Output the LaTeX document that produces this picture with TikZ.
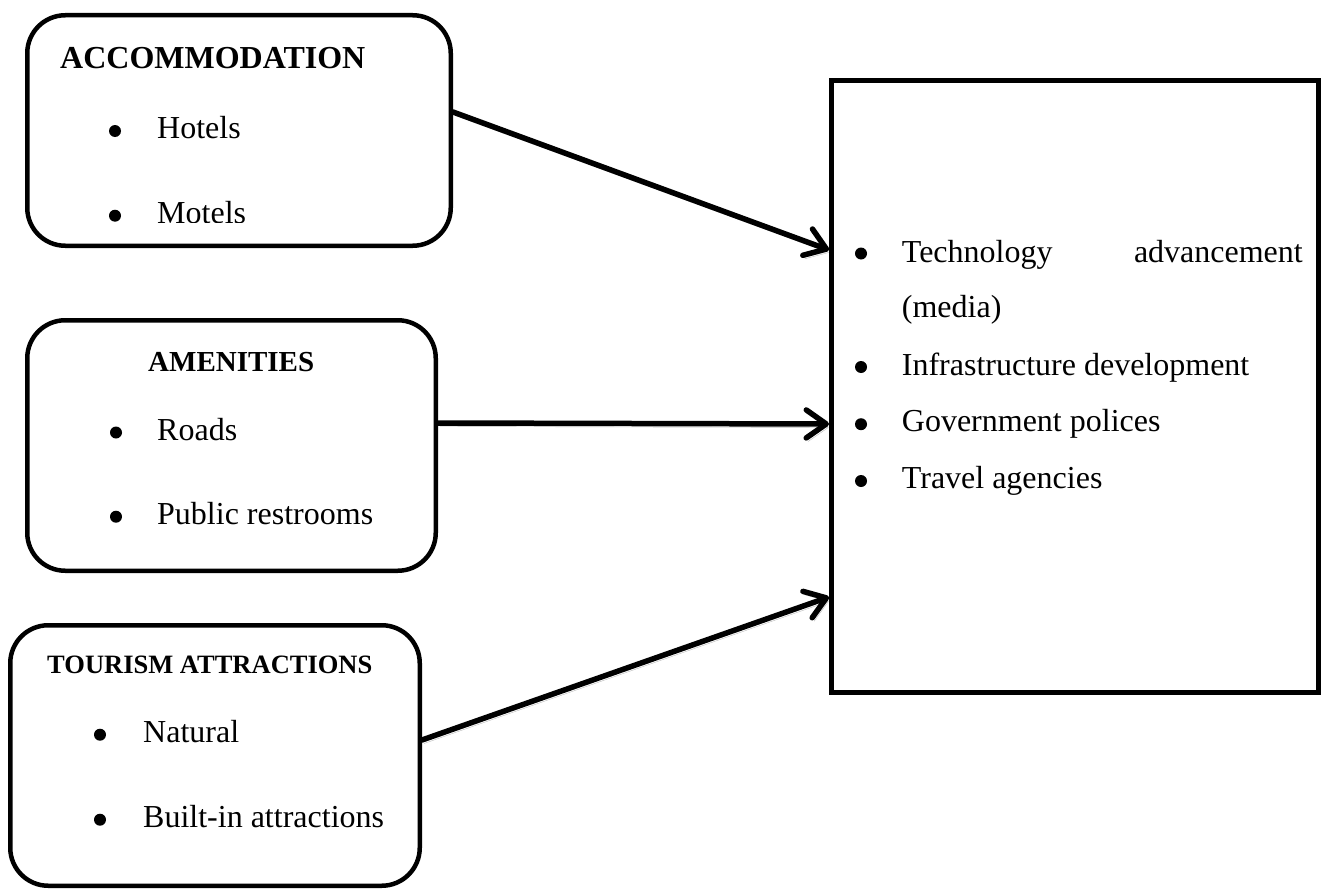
\documentclass[tikz,border=0pt]{standalone}
\usepackage{fontspec}
\setmainfont{Liberation Serif}
\usetikzlibrary{arrows.meta}
\begin{document}
\begin{tikzpicture}[x=1pt,y=-1pt,
  catbox/.style={draw, line width=4.5pt, rounded corners=38pt, inner sep=0pt},
  mainbox/.style={draw, line width=5pt, inner sep=0pt},
  bul/.style={circle, fill, inner sep=0pt, minimum size=12pt},
  txt/.style={anchor=base west, inner sep=0pt, font=\fontsize{32}{38}\selectfont},
  head/.style={anchor=base west, inner sep=0pt, font=\bfseries},
  link/.style={line width=5.5pt, line cap=round,
    -{Straight Barb[length=20pt, width=28pt, line cap=round, line join=round]},
    preaction={draw=gray!55, transform canvas={shift={(2pt,-3.5pt)}}}}]
\useasboundingbox (0,0) rectangle (1330,891);

% category boxes
\node[catbox, minimum width=423.5pt, minimum height=230.5pt] (acc) at (239,130.5) {};
\node[catbox, minimum width=408.5pt, minimum height=250.5pt] (amen) at (231.5,445.5) {};
\node[catbox, minimum width=409.5pt, minimum height=260.5pt] (tour) at (215,755.5) {};

% factors box
\node[mainbox, minimum width=487pt, minimum height=612pt] (fac) at (1075,386.5) {};

% accommodation
\node[head, font=\fontsize{32}{38}\selectfont\bfseries] (accT) at (60,68) {ACCOMMODATION};
\node[bul] (accB1) at (115,131) {};
\node[txt] (accI1) at (157,138) {Hotels};
\begin{scope}
  \clip (30,150) rectangle (440,222);
  \node[bul] (accB2) at (115,215.7) {};
  \node[txt] (accI2) at (157,223) {Motels};
\end{scope}

% amenities
\node[head, font=\fontsize{29}{34}\selectfont\bfseries] (amenT) at (148,371) {AMENITIES};
\node[bul] (amenB1) at (116,432.5) {};
\node[txt] (amenI1) at (157,440) {Roads};
\node[bul] (amenB2) at (116,516.7) {};
\node[txt] (amenI2) at (157,524) {Public restrooms};

% tourism attractions
\node[head, font=\fontsize{26.5}{32}\selectfont\bfseries] (tourT) at (47,673) {TOURISM ATTRACTIONS};
\node[bul] (tourB1) at (100,734.7) {};
\node[txt] (tourI1) at (143,742) {Natural};
\node[bul] (tourB2) at (100,819.7) {};
\node[txt] (tourI2) at (143,827) {Built-in attractions};

% factors list
\node[bul] (facB1) at (861,253.5) {};
\node[txt] (facI1a) at (901.7,262) {Technology};
\node[txt, anchor=base east] (facI1b) at (1303,262) {advancement};
\node[txt] (facI1c) at (901.7,317) {(media)};
\node[bul] (facB2) at (861,367) {};
\node[txt] (facI2) at (901.7,375) {Infrastructure development};
\node[bul] (facB3) at (861,424.2) {};
\node[txt] (facI3) at (901.7,431.7) {Government polices};
\node[bul] (facB4) at (861,481) {};
\node[txt] (facI4) at (901.7,488.3) {Travel agencies};

% connectors
\draw[link] ([yshift=18.5pt]acc.east) -- ([yshift=136.5pt]fac.west);
\draw[link] ([yshift=22.5pt]amen.east) -- ([yshift=-37.5pt]fac.west);
\draw[link] ([yshift=15.5pt]tour.east) -- ([yshift=-210.5pt]fac.west);
\end{tikzpicture}
\end{document}
